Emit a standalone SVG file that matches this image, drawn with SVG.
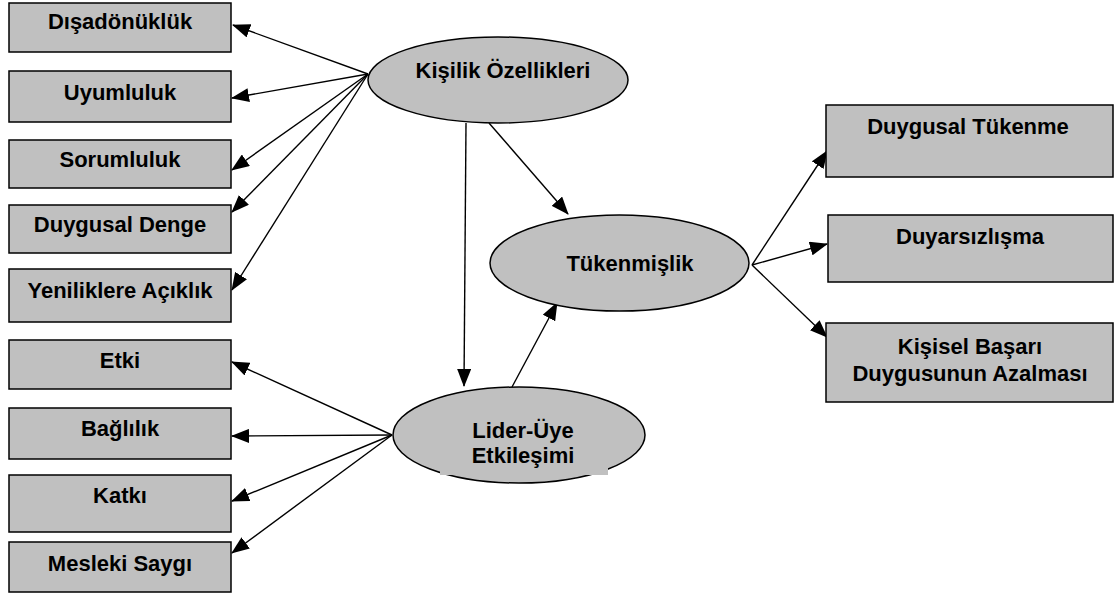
<svg xmlns="http://www.w3.org/2000/svg" width="1116" height="594" viewBox="0 0 1116 594">
<style>
.box{fill:#c0c0c0;stroke:#000;stroke-width:1.5}
.ell{fill:#c0c0c0;stroke:#000;stroke-width:1.5}
.t{font-family:"Liberation Sans",Arial,sans-serif;font-weight:bold;font-size:22px;fill:#000;text-anchor:middle}
.c{stroke:#000;stroke-width:1.4;fill:none;marker-end:url(#ah)}
</style>
<defs>
<marker id="ah" markerUnits="userSpaceOnUse" markerWidth="18" markerHeight="14" viewBox="0 0 18 14" refX="17" refY="7" orient="auto">
<path d="M0,0 L18,7 L0,14 Z" fill="#000"/>
</marker>
</defs>
<rect width="1116" height="594" fill="#fff"/>
<g id="connectors">
<line class="c" x1="368" y1="74" x2="233" y2="25"/>
<line class="c" x1="368" y1="74" x2="232" y2="98"/>
<line class="c" x1="368" y1="74" x2="232" y2="170"/>
<line class="c" x1="368" y1="74" x2="232" y2="212"/>
<line class="c" x1="368" y1="74" x2="232" y2="290"/>
<line class="c" x1="466" y1="123" x2="464" y2="386"/>
<line class="c" x1="489" y1="123" x2="568" y2="214"/>
<line class="c" x1="512" y1="387" x2="557" y2="303"/>
<line class="c" x1="752" y1="265" x2="827" y2="151"/>
<line class="c" x1="752" y1="265" x2="827" y2="244"/>
<line class="c" x1="752" y1="265" x2="827" y2="337"/>
<line class="c" x1="392" y1="435" x2="232" y2="362"/>
<line class="c" x1="392" y1="435" x2="232" y2="436"/>
<line class="c" x1="392" y1="435" x2="232" y2="501"/>
<line class="c" x1="392" y1="435" x2="232" y2="553"/>
</g>
<g id="disadonukluk"><rect class="box" x="9" y="3" width="222" height="49"/><text class="t" x="120" y="29">Dışadönüklük</text></g>
<g id="uyumluluk"><rect class="box" x="9" y="71" width="222" height="51"/><text class="t" x="120" y="100">Uyumluluk</text></g>
<g id="sorumluluk"><rect class="box" x="9" y="140" width="222" height="48"/><text class="t" x="120" y="167">Sorumluluk</text></g>
<g id="duygusal-denge"><rect class="box" x="9" y="205" width="222" height="48"/><text class="t" x="120" y="232">Duygusal Denge</text></g>
<g id="yeniliklere"><rect class="box" x="9" y="269" width="222" height="53"/><text class="t" x="120" y="298">Yeniliklere Açıklık</text></g>
<g id="etki"><rect class="box" x="9" y="340" width="222" height="49"/><text class="t" x="120" y="368">Etki</text></g>
<g id="baglilik"><rect class="box" x="9" y="408" width="222" height="51"/><text class="t" x="120" y="436">Bağlılık</text></g>
<g id="katki"><rect class="box" x="9" y="475" width="222" height="57"/><text class="t" x="120" y="503">Katkı</text></g>
<g id="mesleki"><rect class="box" x="9" y="542" width="222" height="50"/><text class="t" x="120" y="571">Mesleki Saygı</text></g>
<g id="kisilik"><ellipse class="ell" cx="498" cy="80" rx="130" ry="43"/><text class="t" x="503" y="78">Kişilik Özellikleri</text></g>
<g id="tukenmislik"><ellipse class="ell" cx="619.5" cy="263" rx="129.5" ry="48"/><text class="t" x="630" y="271">Tükenmişlik</text></g>
<g id="lider"><ellipse class="ell" cx="519" cy="435" rx="126" ry="48"/><rect x="440" y="440" width="168" height="35" fill="#c0c0c0"/><text class="t" x="523" y="438">Lider-Üye</text><text class="t" x="523" y="463">Etkileşimi</text></g>
<g id="duygusal-tukenme"><rect class="box" x="826" y="105" width="287" height="72"/><text class="t" x="968" y="134">Duygusal Tükenme</text></g>
<g id="duyarsizlasma"><rect class="box" x="828" y="215" width="285" height="67"/><text class="t" x="970" y="244">Duyarsızlışma</text></g>
<g id="kisisel-basari"><rect class="box" x="826" y="323" width="287" height="79"/><text class="t" x="970" y="354">Kişisel Başarı</text><text class="t" x="970" y="381">Duygusunun Azalması</text></g>
</svg>
